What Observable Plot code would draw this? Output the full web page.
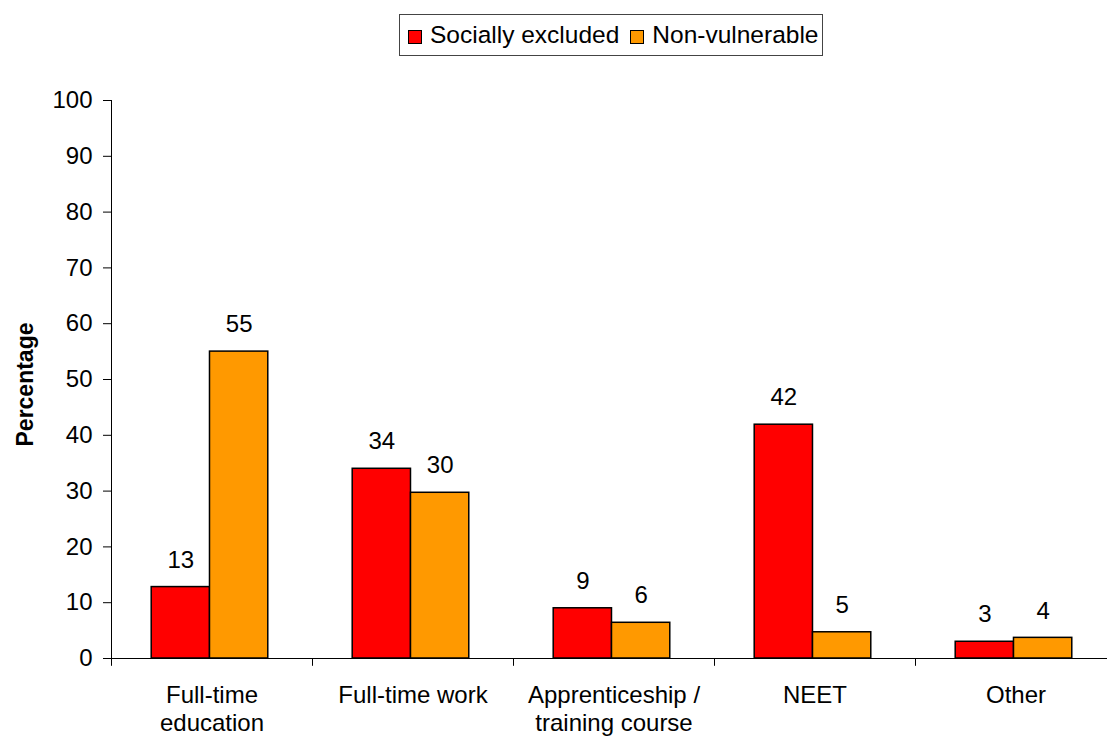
<!DOCTYPE html>
<html>
<head>
<meta charset="utf-8">
<script src="https://cdn.jsdelivr.net/npm/d3@7"></script>
<script src="https://cdn.jsdelivr.net/npm/@observablehq/plot@0.6"></script>
<style>
  body { margin: 0; background: white; font-family: "Liberation Sans", Arial, sans-serif; }
  #wrap { position: relative; width: 1107px; height: 736px; overflow: hidden; }
  #legend { position: absolute; left: 399px; top: 14px; width: 422px; height: 40px; border: 1px solid #444;
    display: flex; align-items: center; font-size: 24.5px; color: #000; box-sizing: content-box; white-space: nowrap; }
  .sw { display: inline-block; width: 12px; height: 12px; border: 1.5px solid #000; margin: 3px 8px 0 0; }
  .item { display: flex; align-items: center; }
  .item:first-child { margin-left: 8px; }
  .item + .item { margin-left: 11px; }
</style>
</head>
<body>
<div id="wrap"><div id="legend"></div></div>
<script>
const categories = ["Full-time\neducation", "Full-time work", "Apprenticeship /\ntraining course", "NEET", "Other"];
const series = ["Socially excluded", "Non-vulnerable"];
const colors = ["#FF0000", "#FF9900"];
const sociallyExcluded = [12.8, 34, 9, 41.9, 3];
const nonVulnerable = [55, 29.7, 6.4, 4.7, 3.7];
const yTicks = [0, 10, 20, 30, 40, 50, 60, 70, 80, 90, 100];

const data = [];
categories.forEach((c, i) => {
  data.push({category: c, series: series[0], value: sociallyExcluded[i]});
  data.push({category: c, series: series[1], value: nonVulnerable[i]});
});

const W = 1107, H = 736, mL = 111, mR = -9, mT = 100, mB = 78;
const step = (W - mL - mR) / categories.length;
const groupLeft = 0.2 * step, barW = 0.29 * step;
const inset = s => {
  const left = groupLeft + (s === series[0] ? 0 : barW);
  return {insetLeft: left, insetRight: step - left - barW, center: left + barW / 2 - step / 2};
};

const marks = [];
series.forEach((s, k) => {
  const d = data.filter(r => r.series === s);
  const ins = inset(s);
  marks.push(Plot.barY(d, {x: "category", y: "value", fill: colors[k], stroke: "#000", strokeWidth: 1.5,
    insetLeft: ins.insetLeft, insetRight: ins.insetRight}));
  marks.push(Plot.text(d, {x: "category", y: "value", text: r => String(Math.round(r.value)),
    dx: ins.center, dy: -27, fontSize: 24, fill: "#000", lineAnchor: "middle"}));
});

const chart = Plot.plot({
  width: W, height: H,
  marginLeft: mL, marginRight: mR, marginTop: mT, marginBottom: mB,
  style: {fontFamily: "Liberation Sans, Arial, sans-serif", fontSize: "24px", color: "#000", background: "white", overflow: "hidden"},
  x: {domain: categories, padding: 0},
  y: {domain: [0, 100]},
  marks: [
    ...marks,
    Plot.ruleY([0], {stroke: "#000", strokeWidth: 1}),
    Plot.frame({anchor: "left", stroke: "#000", strokeWidth: 1}),
    Plot.ruleX(categories, {x: d => d, dx: -step / 2, y1: 0, y2: -1.4, stroke: "#000"}),
    Plot.axisX({tickSize: 0, tickPadding: 25, fontSize: 24, lineHeight: 1.15, label: null}),
    Plot.axisY({ticks: yTicks, tickSize: 8, tickPadding: 11, fontSize: 24, label: null, stroke: "#000"}),
    Plot.text(["Percentage"], {frameAnchor: "left", textAnchor: "middle", dx: -86, dy: 5, rotate: -90, fontWeight: "bold", fontSize: 23, fill: "#000"})
  ]
});
document.getElementById("wrap").appendChild(chart);

const legend = document.getElementById("legend");
series.forEach((s, k) => {
  const it = document.createElement("div");
  it.className = "item";
  const sw = document.createElement("span");
  sw.className = "sw";
  sw.style.background = colors[k];
  it.appendChild(sw);
  it.appendChild(document.createTextNode(s));
  legend.appendChild(it);
});
</script>
</body>
</html>
